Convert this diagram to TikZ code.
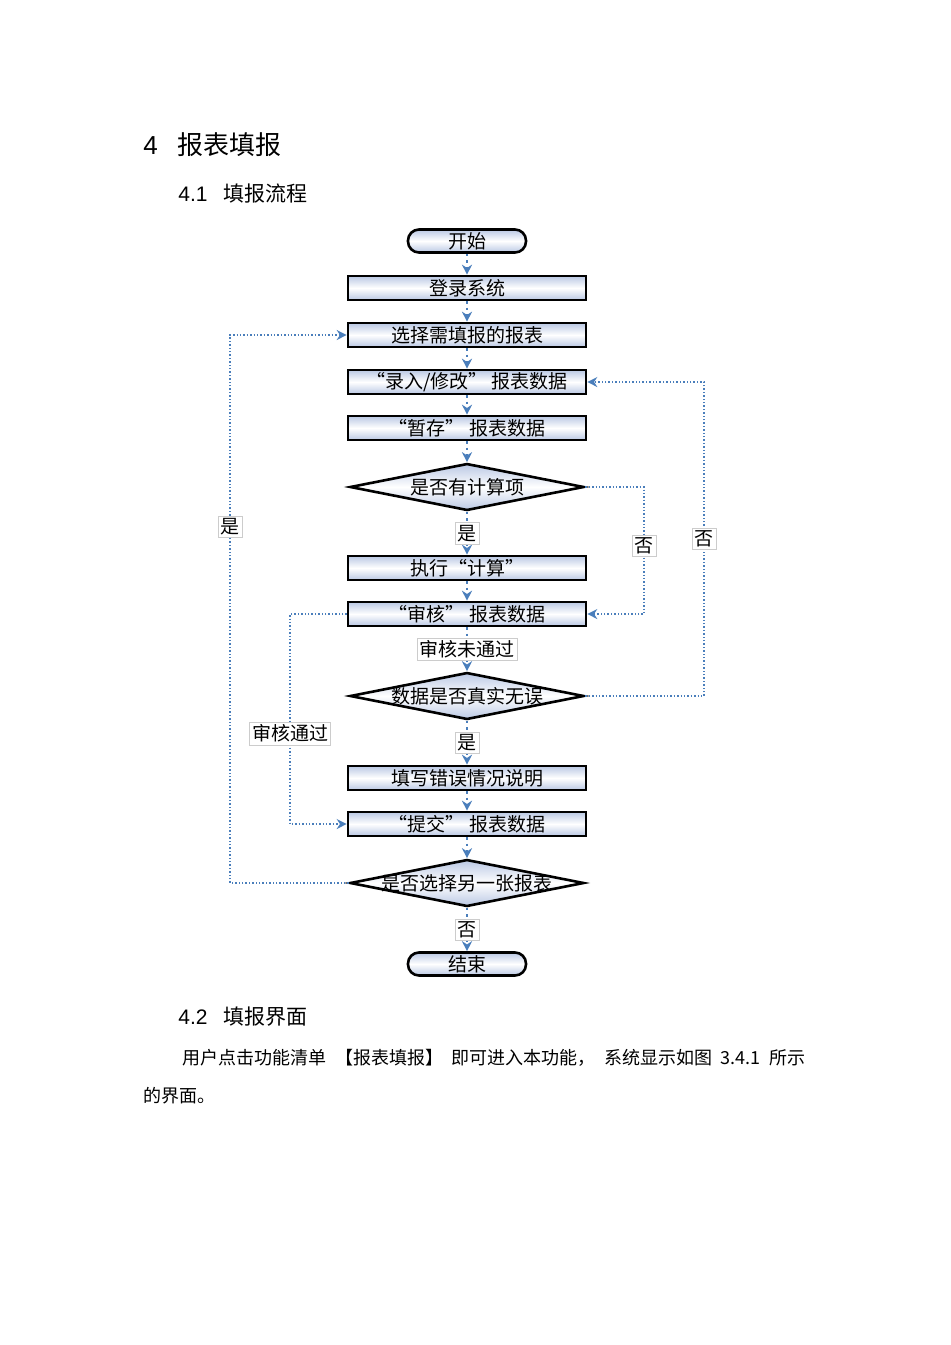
\documentclass[tikz,border=0pt]{standalone}
\usepackage{fontspec}
\setmainfont{Liberation Sans}
\newfontfamily\cjk{Noto Sans CJK SC}
\usetikzlibrary{arrows.meta, shapes.geometric, calc}
\definecolor{flowblue}{RGB}{74,126,187}
\definecolor{boxfill}{RGB}{186,200,228}

\begin{document}
\begin{tikzpicture}[
      x=0.5pt, y=-0.5pt,
      every node/.style={font=\cjk},
      process/.style={rectangle, draw=black, line width=1.3pt, top color=boxfill, bottom color=boxfill, middle color=white,
        minimum width=119pt, minimum height=12pt, inner sep=0pt, font=\cjk\fontsize{9.5}{10}\selectfont},
      terminal/.style={process, rounded corners=5.5pt, minimum width=59pt, minimum height=11.5pt},
      decision/.style={diamond, draw=black, line width=1.3pt, top color=boxfill, bottom color=boxfill, middle color=white,
        aspect=5, inner sep=0pt, minimum width=117pt, minimum height=23.5pt},
      dtext/.style={inner sep=0pt, font=\cjk\fontsize{9.5}{10}\selectfont},
      flow/.style={draw=flowblue, line width=1.2pt, dotted, -{Stealth[length=5pt, width=5pt]}},
      back/.style={draw=flowblue, line width=0.7pt, densely dotted, -{Stealth[length=5pt, width=5pt]}},
      tag/.style={fill=white, draw=gray!40, line width=0.3pt, inner sep=1.2pt, solid, font=\cjk\fontsize{9.5}{10}\selectfont}
    ]
    \useasboundingbox (0,0) rectangle (950,1345);

    \node[anchor=west, inner sep=0pt, font=\fontsize{13}{14}\selectfont] (chap) at (143,145) {4\hspace{10pt}{\cjk 报表填报}};
    \node[anchor=west, inner sep=0pt, font=\fontsize{10.5}{12}\selectfont] (sec1) at (178,194) {4.1\hspace{8pt}{\cjk 填报流程}};

    \node[terminal] (start) at (467,241) {开始};
    \node[process] (login) at (467,288) {登录系统};
    \node[process] (choose) at (467,335) {选择需填报的报表};
    \node[process] (input) at (467,382) {“录入/修改” 报表数据};
    \node[process] (save) at (467,428) {“暂存” 报表数据};
    \node[decision, label={[dtext]center:是否有计算项}] (hascalc) at (467,487) {};
    \node[process] (calc) at (467,568) {执行“计算”};
    \node[process] (audit) at (467,614) {“审核” 报表数据};
    \node[decision, label={[dtext]center:数据是否真实无误}] (valid) at (467,696) {};
    \node[process] (errnote) at (467,778) {填写错误情况说明};
    \node[process] (submit) at (467,824) {“提交” 报表数据};
    \node[decision, label={[dtext]center:是否选择另一张报表}] (another) at (467,883) {};
    \node[terminal] (stop) at (467,964) {结束};

    \coordinate (farleft) at (230,0);
    \coordinate (nearleft) at (290,0);
    \coordinate (nearright) at (644,0);
    \coordinate (farright) at (704,0);

    \draw[flow] (start) -- (login);
    \draw[flow] (login) -- (choose);
    \draw[flow] (choose) -- (input);
    \draw[flow] (input) -- (save);
    \draw[flow] (save) -- (hascalc);
    \draw[flow] (hascalc) -- node[tag] {是} (calc);
    \draw[flow] (calc) -- (audit);
    \draw[flow] (audit) -- node[tag] {审核未通过} (valid);
    \draw[flow] (valid) -- node[tag] {是} (errnote);
    \draw[flow] (errnote) -- (submit);
    \draw[flow] (submit) -- (another);
    \draw[flow] (another) -- node[tag] {否} (stop);

    \draw[back] (another.west) -- (another.west -| farleft) -- node[tag, pos=0.65] {是} (choose.west -| farleft) -- (choose.west);
    \draw[back] (audit.west) -- (audit.west -| nearleft) -- node[tag, pos=0.57] {审核通过} (submit.west -| nearleft) -- (submit.west);
    \draw[back] (hascalc.east) -- (hascalc.east -| nearright) -- node[tag, pos=0.46] {否} (audit.east -| nearright) -- (audit.east);
    \draw[back] (valid.east) -- (valid.east -| farright) -- node[tag] {否} (input.east -| farright) -- (input.east);

    \node[anchor=west, inner sep=0pt, font=\fontsize{10.5}{12}\selectfont] (sec2) at (178,1017) {4.2\hspace{8pt}{\cjk 填报界面}};
    \node[anchor=west, inner sep=0pt, font=\cjk\fontsize{9}{10}\selectfont] (para1) at (182,1058)
      {\hbox to 311.5pt{用户点击功能清单\hfil 【报表填报】\hfil 即可进入本功能，\hfil 系统显示如图\hfil 3.4.1\hfil 所示}};
    \node[anchor=west, inner sep=0pt, font=\cjk\fontsize{9}{10}\selectfont] (para2) at (143,1096) {的界面。};
\end{tikzpicture}
\end{document}
